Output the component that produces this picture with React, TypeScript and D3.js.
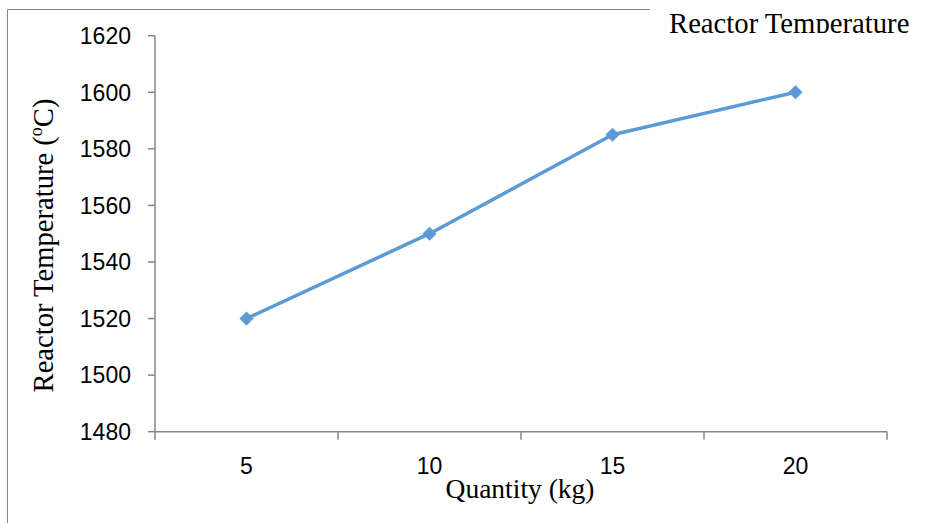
import React from "react";
import * as d3 from "d3";

const categories = ["5", "10", "15", "20"];
const temperatures = [1520, 1550, 1585, 1600];
const yTicks = [1480, 1500, 1520, 1540, 1560, 1580, 1600, 1620];

const W = 934;
const H = 523;
const plotLeft = 155;
const plotRight = 887;
const plotTop = 35.7;
const plotBottom = 431.7;

export default function App() {
  const x = d3.scaleBand<string>().domain(categories).range([plotLeft, plotRight]).padding(0);
  const y = d3.scaleLinear().domain([1480, 1620]).range([plotBottom, plotTop]);
  const cx = (c: string) => (x(c) ?? 0) + x.bandwidth() / 2;
  const pts: [number, number][] = categories.map((c, i) => [cx(c), y(temperatures[i])]);
  const line = d3.line<[number, number]>().x((d) => d[0]).y((d) => d[1])(pts) ?? "";
  const diamond = d3.symbol().type(d3.symbolDiamond2).size(110)() ?? "";
  const xTickPos = [plotLeft, ...categories.map((c) => (x(c) ?? 0) + x.bandwidth())];
  const axisColor = "#868686";
  const tickFont = "'Liberation Sans', Arial, sans-serif";
  const serif = "'Liberation Serif', 'Times New Roman', serif";

  return (
    <svg width={W} height={H} style={{ position: "absolute", left: 0, top: 0, background: "#fff" }}>
      <defs>
        <clipPath id="titleClip">
          <rect x={600} y={0} width={334} height={33} />
        </clipPath>
      </defs>
      {/* frame lines */}
      <line x1={7.5} y1={9.5} x2={650} y2={9.5} stroke={axisColor} strokeWidth={1} />
      <line x1={7.5} y1={9.5} x2={7.5} y2={H} stroke={axisColor} strokeWidth={1} />

      {/* y axis */}
      <line x1={plotLeft} y1={plotTop} x2={plotLeft} y2={plotBottom} stroke={axisColor} strokeWidth={1.5} />
      {yTicks.map((t) => (
        <g key={t}>
          <line x1={plotLeft - 7} x2={plotLeft} y1={y(t)} y2={y(t)} stroke={axisColor} strokeWidth={1.5} />
          <text x={131} y={y(t)} dy="0.36em" textAnchor="end" fontFamily={tickFont} fontSize={23} fill="#000">
            {t}
          </text>
        </g>
      ))}

      {/* x axis */}
      <line x1={plotLeft} y1={plotBottom} x2={plotRight} y2={plotBottom} stroke={axisColor} strokeWidth={1.5} />
      {xTickPos.map((p, i) => (
        <line key={i} x1={p} x2={p} y1={plotBottom} y2={plotBottom + 8} stroke={axisColor} strokeWidth={1.5} />
      ))}
      {categories.map((c) => (
        <text key={c} x={cx(c)} y={466} dy="0.36em" textAnchor="middle" fontFamily={tickFont} fontSize={23} fill="#000">
          {c}
        </text>
      ))}

      {/* series */}
      <path d={line} fill="none" stroke="#5B9BD5" strokeWidth={3.5} strokeLinejoin="round" />
      {pts.map((p, i) => (
        <path key={i} d={diamond} transform={`translate(${p[0]},${p[1]})`} fill="#5B9BD5" stroke="#5B9BD5" strokeWidth={1} />
      ))}

      {/* axis titles */}
      <text
        transform={`translate(53,245.5) rotate(-90)`}
        textAnchor="middle"
        fontFamily={serif}
        fontSize={28.6}
        fill="#000"
      >
        Reactor Temperature (
        <tspan fontSize={18} dy={-11}>o</tspan>
        <tspan dy={11}>C)</tspan>
      </text>
      <text x={520} y={498} textAnchor="middle" fontFamily={serif} fontSize={27.5} fill="#000">
        Quantity (kg)
      </text>

      {/* chart title (clipped) */}
      <g clipPath="url(#titleClip)">
        <text x={669} y={32.5} fontFamily={serif} fontSize={28.7} fill="#000">
          Reactor Temperature
        </text>
      </g>
    </svg>
  );
}
